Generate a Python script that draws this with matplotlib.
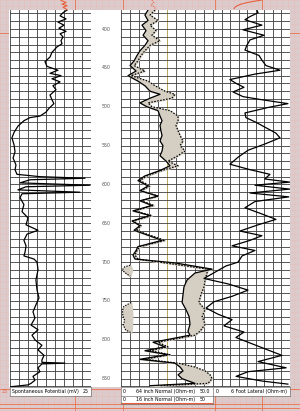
import numpy as np
import matplotlib
matplotlib.use('Agg')
import matplotlib.pyplot as plt

# ── log data (depth in ft) ────────────────────────────────────────────────────
sp_depth = [375.5, 379, 383, 387, 391, 395, 399, 403, 406, 410, 415, 419, 423, 430,
            436, 442, 448, 453, 457, 460, 464, 468, 473, 478, 485, 491, 496, 502,
            507, 512, 514, 518, 525, 533, 540, 549, 558, 566, 575, 581, 587, 590,
            592, 594, 598, 601, 603, 607, 610, 612, 617, 626, 635, 643, 652, 659,
            664, 672, 679, 687, 692, 696, 700, 710, 723, 736, 746, 755, 764, 772,
            781, 787, 794, 800, 807, 813, 820, 826, 829, 830, 831, 836, 841, 847,
            852, 856, 858, 860.5]
sp_mv = [10.2, 7.7, 5.9, 9.6, 4.6, 8.3, 5.2, 9.6, 5.9, 7.7, 6.5, 7.1, 4.0, 0.9,
         -0.3, -3.4, -2.2, 4.6, -0.3, 6.5, 0.9, 5.9, 1.5, 3.4, -0.3, 0.9, 2.1, -0.9,
         -2.8, -6.5, -12.7, -16.4, -20.1, -22.5, -23.8, -22.5, -21.9, -23.1, -21.3, -21.9, -20.7, -6.5,
         21.3, -12.7, -18.8, 24.4, -15.1, -20.1, 18.2, -17.6, -18.8, -16.4, -17.6, -13.9, -15.1, -7.7,
         -14.5, -16.4, -15.1, -15.7, -16.4, -10.2, -8.3, -7.7, -9.0, -8.3, -7.1, -9.0, -10.8, -9.6,
         -12.0, -7.7, -11.4, -9.6, -5.3, -7.7, -4.0, -5.3, -5.3, 8.9, -5.3, -7.7, -6.5, -10.8,
         -9.6, -12.0, -13.9, -25.0]
sp_top_depth = [363, 366, 368, 370, 372, 374, 375.5]   # red trace above the sheet
sp_top_mv = [6.5, 9.6, 7.1, 10.2, 7.7, 9.6, 10.2]

nrm_depth = [375.5, 382, 389, 395, 402, 408, 415, 421, 428, 434, 441, 447, 454, 460,
             467, 473, 480, 484, 489, 495, 500, 505, 512, 518, 524, 531, 537, 544,
             550, 557, 563, 570, 576, 582, 589, 595, 602, 608, 615, 621, 627, 634,
             640, 647, 653, 659, 664, 672, 680, 685, 691, 696, 701, 709, 714, 723,
             732, 742, 752, 761, 770, 780, 789, 794, 799, 803, 809, 814, 819, 825,
             830, 835, 840, 845, 850, 856, 859]
n64 = [14.7, 13.0, 14.7, 11.4, 13.6, 12.0, 14.7, 13.0, 10.3, 8.7, 7.1, 4.9, 8.2, 3.8,
       9.2, 13.0, 15.8, 21.2, 15.8, 10.3, 14.1, 20.1, 21.2, 22.3, 21.2, 21.7, 22.3, 21.2,
       22.8, 22.3, 21.2, 24.5, 26.6, 21.2, 13.0, 9.2, 14.7, 10.3, 20.1, 10.3, 16.8, 6.5,
       15.8, 6.0, 10.3, 7.1, 13.0, 22.3, 9.2, 8.2, 6.5, 7.6, 29.3, 49.5, 40.2, 35.9,
       34.2, 33.7, 33.2, 35.3, 37.0, 37.5, 36.4, 37.5, 26.6, 17.4, 23.9, 13.0, 25.5, 10.3,
       29.3, 32.1, 33.7, 31.0, 33.2, 40.2, 15.8]
n16 = [18.5, 15.8, 20.1, 15.8, 19.0, 16.8, 21.2, 15.8, 13.0, 10.9, 9.2, 7.1, 13.0, 5.4,
       14.7, 18.5, 23.9, 29.3, 27.7, 14.7, 16.8, 26.6, 31.0, 31.0, 29.9, 31.0, 32.1, 33.7,
       32.1, 34.8, 31.0, 25.5, 31.0, 22.3, 14.1, 10.3, 15.8, 10.9, 20.1, 10.9, 17.9, 7.1,
       16.8, 6.5, 10.9, 8.2, 14.1, 23.9, 10.3, 8.7, 7.6, 9.2, 23.9, 47.3, 46.7, 45.7,
       45.1, 43.4, 42.3, 45.7, 44.1, 45.7, 42.9, 40.2, 29.3, 20.1, 25.5, 15.8, 26.6, 13.0,
       31.0, 40.2, 45.7, 48.4, 49.5, 47.3, 21.2]
n16_top_depth = [363, 366, 369, 372, 375.5]
n16_top = [16.8, 17.9, 16.3, 18.5, 18.5]

# short excursions of the 16 inch curve near zero
dip_a_depth = [704, 706, 709, 712, 715, 718]
dip_a_in = [5.0, 2.0, 1.0, 1.5, 3.0, 5.0]
dip_a_out = [5.0, 5.5, 6.0, 5.8, 5.5, 5.0]
dip_b_depth = [752, 757, 763, 769, 775, 781, 787, 791]
dip_b_in = [5.5, 1.5, 0.8, 1.0, 2.0, 1.2, 2.5, 5.5]
dip_b_out = [5.5, 5.8, 6.0, 6.2, 6.0, 6.0, 5.8, 5.5]

lat_depth = [375.5, 379, 384, 388, 395, 401, 408, 414, 421, 427, 434, 440, 447, 453,
             458, 465, 470, 475, 481, 487, 491, 496, 501, 508, 514, 520, 527, 534,
             540, 548, 556, 565, 574, 581, 587, 593, 597, 601, 606, 611, 616, 622,
             630, 638, 645, 652, 660, 666, 672, 679, 685, 692, 700, 705, 713, 721,
             728, 736, 744, 751, 759, 767, 774, 782, 790, 797, 805, 813, 820, 828,
             836, 841, 847, 853, 857]
lat = [22.8, 23.4, 19.2, 16.6, 25.4, 15.6, 26.5, 19.2, 17.6, 16.6, 23.9, 25.4, 27.5, 34.8,
       21.8, 8.8, 12.0, 16.1, 10.4, 15.6, 25.4, 38.9, 28.5, 16.6, 17.1, 22.3, 27.5, 32.7,
       34.8, 26.9, 18.2, 13.0, 8.8, 19.2, 29.6, 26.9, 39.9, 21.8, 39.9, 19.2, 39.4, 21.8,
       16.6, 25.4, 32.7, 23.4, 14.0, 25.4, 19.2, 9.9, 21.8, 15.1, 13.0, 6.7, 1.0, -4.7,
       7.8, 18.2, 9.9, 0.5, -3.6, 2.6, 9.9, 5.7, 16.1, 11.9, 20.2, 28.5, 35.8, 23.4,
       38.0, 18.2, 12.0, 25.4, 38.9]
lat_top_depth = [362.6, 364, 366, 368, 370, 372, 373.5]
lat_top = [25.4, 22.0, 17.6, 14.5, 12.5, 11.4, 11.0]

depth_labels = [400, 450, 500, 550, 600, 650, 700, 750, 800, 850]

TOP, BOT = 375.5, 860.7
PAPER = '#dccbcd'
GRID = '#3c3c3c'
SHADE = '#d4cec3'
RED = '#e8603c'

fig = plt.figure(figsize=(3.0, 4.11), dpi=100, facecolor=PAPER)

# paper background with orange grid
bg = fig.add_axes([0, 0, 1, 1])
bg.set_xlim(0, 300)
bg.set_ylim(411, 0)
bg.set_facecolor(PAPER)
for v in np.arange(0, 300, 6):
    bg.axvline(v, color='#ecb4ac', lw=0.4, alpha=0.6)
for v in np.arange(0, 411, 6):
    bg.axhline(v, color='#ecb4ac', lw=0.4, alpha=0.6)
for v in [75, 123, 215, 262]:
    bg.axvline(v, color='#e8704a', lw=0.6)
for v in [33, 389, 404, 408]:
    bg.axhline(v, color='#e8704a', lw=0.6)
bg.axis('off')

# white log sheet
sheet = fig.add_axes([9 / 300, 1 - 387 / 411, 281 / 300, 377 / 411])
sheet.set_facecolor('white')
sheet.set_xticks([])
sheet.set_yticks([])
for s in sheet.spines.values():
    s.set_visible(False)

def track(left, width, xlim, ndiv, heavy=()):
    ax = fig.add_axes([left / 300, 1 - 387 / 411, width / 300, 377 / 411])
    ax.set_xlim(*xlim)
    ax.set_ylim(BOT, TOP)
    ax.set_facecolor('none')
    xs = np.linspace(xlim[0], xlim[1], ndiv + 1)
    for i, x in enumerate(xs):
        c = '#a89a3a' if i in heavy else GRID
        ax.axvline(x, color=c, lw=0.6, zorder=1)
    for d in np.arange(380, 861, 10):
        ax.axhline(d, color=GRID, lw=0.6, zorder=1)
    ax.set_xticks([])
    ax.set_yticks([])
    for s in ax.spines.values():
        s.set_visible(False)
    return ax

ax1 = track(10, 81, (-25, 25), 9)
ax2 = track(121, 92, (0, 50), 10, heavy=(5, 10))
ax3 = track(213, 77, (0, 40), 9)

# SP
ax1.plot(sp_mv, sp_depth, color='black', lw=0.9, zorder=3)
ax1.plot(sp_top_mv, sp_top_depth, color=RED, lw=0.8, clip_on=False)

# normals with shading
ax2.fill_betweenx(nrm_depth, n64, n16, color=SHADE, zorder=2)
ax2.plot(n64, nrm_depth, color='black', lw=0.9, zorder=3)
ax2.plot(n16, nrm_depth, color='black', lw=0.9, ls=(0, (1.2, 1.2)), zorder=3)
ax2.plot(n16_top, n16_top_depth, color=RED, lw=0.7, ls=(0, (1.2, 1.2)), clip_on=False)
for dd, din, dout in [(dip_a_depth, dip_a_in, dip_a_out), (dip_b_depth, dip_b_in, dip_b_out)]:
    ax2.fill_betweenx(dd, din, dout, color=SHADE, zorder=2)
    ax2.plot(din, dd, color='black', lw=0.8, ls=(0, (1.2, 1.2)), zorder=3)

# lateral drawn on an overlay spanning tracks 2 and 3 (0 at track boundary)
axl = fig.add_axes([121 / 300, 1 - 387 / 411, 169 / 300, 377 / 411])
axl.set_xlim(-92 * 40 / 77, 40)
axl.set_ylim(BOT, TOP)
axl.patch.set_visible(False)
axl.axis('off')
axl.plot(lat, lat_depth, color='black', lw=0.9, zorder=3)
axl.plot(lat_top, lat_top_depth, color=RED, lw=0.8, clip_on=False)

# depth numbers
axd = fig.add_axes([91 / 300, 1 - 387 / 411, 30 / 300, 377 / 411])
axd.set_xlim(0, 1)
axd.set_ylim(BOT, TOP)
axd.axis('off')
for d in depth_labels:
    axd.text(0.5, d, str(d), ha='center', va='center', fontsize=3.4, color='#555555')

# headings
def label_box(left, bottom_px, width, height):
    ax = fig.add_axes([left / 300, 1 - bottom_px / 411, width / 300, height / 411])
    ax.set_xlim(0, 1)
    ax.set_ylim(0, 1)
    ax.set_facecolor('white')
    ax.set_xticks([])
    ax.set_yticks([])
    for s in ax.spines.values():
        s.set_color('#777777')
        s.set_linewidth(0.5)
    return ax

fs = 3.4
lb1 = label_box(10, 396, 81, 9)
lb1.text(0.02, 0.5, 'Spontaneous Potential (mV)', fontsize=fs, va='center', ha='left')
lb1.text(0.97, 0.5, '25', fontsize=fs, va='center', ha='right')
fig.text(8 / 300, 1 - 391.5 / 411, '25', fontsize=fs, color=RED, ha='right', va='center')

lb2 = label_box(121, 404, 92, 17)
lb2.axhline(0.5, color='#777777', lw=0.5)
lb2.text(0.02, 0.75, '0', fontsize=fs, va='center')
lb2.text(0.16, 0.75, '64 inch Normal (Ohm-m)', fontsize=fs, va='center')
lb2.text(0.97, 0.75, '50.0', fontsize=fs, va='center', ha='right')
lb2.text(0.02, 0.27, '0', fontsize=fs, va='center')
lb2.text(0.16, 0.27, '16 inch Normal (Ohm-m)', fontsize=fs, va='center')
lb2.text(0.92, 0.27, '50', fontsize=fs, va='center', ha='right')
lb2.axhline(0.06, color=RED, lw=0.8)

lb3 = label_box(213, 396, 77, 9)
lb3.text(0.03, 0.5, '0', fontsize=fs, va='center')
lb3.text(0.24, 0.5, '6 Foot Lateral (Ohm-m)', fontsize=fs, va='center')

fig.savefig('out.png', dpi=100, facecolor=PAPER)
